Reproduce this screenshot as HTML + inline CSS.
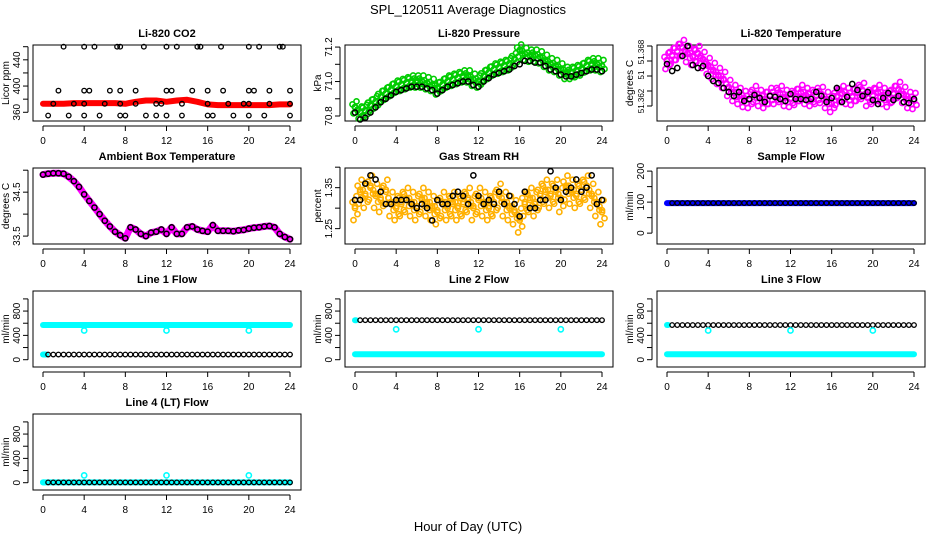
<!DOCTYPE html>
<html><head><meta charset="utf-8"><style>
html,body{margin:0;padding:0;background:#fff}
svg{display:block;font-family:"Liberation Sans",Arial,sans-serif}
</style></head><body>
<svg id="c" width="936" height="540" viewBox="0 0 936 540">
<text x="468" y="14" text-anchor="middle" font-size="13">SPL_120511  Average Diagnostics</text>
<text x="468" y="531" text-anchor="middle" font-size="13">Hour of Day (UTC)</text>
</svg>
<script>
// ---- data ----
var xTicks=[0,4,8,12,16,20,24];
var co2RedHours=[0,1,2,3,4,5,6,7,8,9,10,11,12,13,14,15,16,17,18,19,20,21,22,23,24];
var co2RedVals=[373,373,373,374,374,374,374,374,373,376,378,378,376,378,379,376,372,371,371,371,371,371,371,372,372];
var co2BlackHours=[2,4,5,7.2,7.5,9.8,12,13,15,15.3,17.3,20,21,23,23.3,1.5,4,4.5,6.5,7.5,9,12,12.5,14.5,16,17.5,20,20.5,22,24,1,3,4,6,7.5,9,11,11.5,13.5,16,18,19.5,20,22,24,0.5,2.5,4,5.5,7.5,8,10,11,12,13.5,16,16.5,18.5,20,21.5,24];
var co2BlackVals=[460,460,460,460,460,460,460,460,460,460,460,460,460,460,460,393,393,393,393,393,393,393,393,393,393,393,393,393,393,393,373,373,373,373,373,373,373,373,373,373,373,373,373,373,373,355,355,355,355,355,355,355,355,355,355,355,355,355,355,355,355];
var presHours=[0,0.5,1,1.5,2,2.5,3,3.5,4,4.5,5,5.5,6,6.5,7,7.5,8,8.5,9,9.5,10,10.5,11,11.5,12,12.5,13,13.5,14,14.5,15,15.5,16,16.5,17,17.5,18,18.5,19,19.5,20,20.5,21,21.5,22,22.5,23,23.5,24];
var presGreen=[70.85,70.82,70.83,70.86,70.88,70.91,70.93,70.95,70.97,70.98,70.99,71.0,71.0,71.0,70.99,70.98,70.96,70.98,71.0,71.01,71.02,71.03,71.03,71.01,71.0,71.03,71.05,71.07,71.08,71.09,71.1,71.13,71.18,71.16,71.15,71.15,71.14,71.12,71.1,71.09,71.07,71.05,71.05,71.06,71.07,71.09,71.1,71.1,71.09];
var presBlack=[70.82,70.78,70.79,70.82,70.85,70.88,70.9,70.92,70.94,70.95,70.96,70.97,70.97,70.97,70.96,70.95,70.93,70.95,70.97,70.98,70.99,71.0,71.0,70.98,70.97,71.0,71.02,71.04,71.05,71.06,71.07,71.09,71.1,71.12,71.12,71.11,71.11,71.09,71.07,71.06,71.04,71.03,71.03,71.04,71.05,71.06,71.07,71.07,71.06];
var ltempMag=[51.3655,51.3660,51.3664,51.3668,51.3662,51.3659,51.3662,51.3656,51.3650,51.3645,51.3640,51.3636,51.3628,51.3623,51.3620,51.3617,51.3616,51.3622,51.3618,51.3616,51.3620,51.3620,51.3622,51.3618,51.3617,51.3619,51.3623,51.3620,51.3618,51.3620,51.3621,51.3616,51.3612,51.3619,51.3622,51.3620,51.3619,51.3623,51.3625,51.3618,51.3620,51.3623,51.3620,51.3617,51.3622,51.3626,51.3621,51.3616,51.3615];
var ltempBlack=[51.3652,51.3645,51.3648,51.3660,51.3670,51.3651,51.3648,51.3650,51.3640,51.3635,51.3633,51.3628,51.3624,51.3620,51.3624,51.3615,51.3617,51.3621,51.3618,51.3614,51.3620,51.3619,51.3617,51.3615,51.3622,51.3617,51.3617,51.3616,51.3617,51.3624,51.3620,51.3614,51.3618,51.3628,51.3614,51.3619,51.3632,51.3626,51.3620,51.3624,51.3616,51.3612,51.3618,51.3623,51.3616,51.3620,51.3614,51.3613,51.3617];
var ambHours=[0,0.5,1,1.5,2,2.5,3,3.5,4,4.5,5,5.5,6,6.5,7,7.5,8,8.5,9,9.5,10,10.5,11,11.5,12,12.5,13,13.5,14,14.5,15,15.5,16,16.5,17,17.5,18,18.5,19,19.5,20,20.5,21,21.5,22,22.5,23,23.5,24];
var ambVals=[34.9,34.92,34.93,34.93,34.92,34.85,34.75,34.62,34.45,34.3,34.15,34.0,33.85,33.72,33.6,33.52,33.45,33.7,33.65,33.55,33.5,33.58,33.6,33.65,33.55,33.7,33.55,33.55,33.7,33.72,33.65,33.62,33.6,33.75,33.62,33.62,33.62,33.61,33.63,33.64,33.67,33.69,33.7,33.72,33.73,33.7,33.55,33.48,33.43];
var rhYellow=[1.30,1.34,1.33,1.35,1.33,1.32,1.34,1.31,1.30,1.31,1.32,1.31,1.30,1.32,1.31,1.30,1.29,1.31,1.30,1.31,1.30,1.31,1.32,1.30,1.32,1.31,1.30,1.31,1.33,1.31,1.30,1.29,1.27,1.31,1.32,1.31,1.33,1.34,1.33,1.34,1.32,1.35,1.34,1.33,1.34,1.35,1.33,1.31,1.29];
var rhBlack=[1.32,1.32,1.36,1.38,1.37,1.34,1.31,1.31,1.32,1.32,1.32,1.31,1.30,1.31,1.30,1.27,1.32,1.31,1.31,1.33,1.34,1.33,1.31,1.38,1.33,1.31,1.32,1.31,1.34,1.31,1.33,1.31,1.28,1.34,1.30,1.30,1.32,1.32,1.39,1.35,1.32,1.34,1.35,1.37,1.34,1.35,1.38,1.31,1.32];
var sampleFlow=[97,97,97,97,97,97,97,97,97,97,97,97,97,97,97,97,97,97,97,97,97,97,97,97,97,97,97,97,97,97,97,97,97,97,97,97,97,97,97,97,97,97,97,97,97,97,97,97,97];
var flowHours=[0,0.5,1,1.5,2,2.5,3,3.5,4,4.5,5,5.5,6,6.5,7,7.5,8,8.5,9,9.5,10,10.5,11,11.5,12,12.5,13,13.5,14,14.5,15,15.5,16,16.5,17,17.5,18,18.5,19,19.5,20,20.5,21,21.5,22,22.5,23,23.5,24];
var dipHours=[4,12,20];
var line1Cyan=570, line1Black=85, line1Dip=480;
var line2Cyan=90, line2Black=650, line2Dip=500;
var line3Cyan=90, line3Black=570, line3Dip=480;
var line4Cyan=5, line4Black=5, line4Dip=120;

// ---- drawing ----
var svg=document.getElementById('c'), NS='http://www.w3.org/2000/svg';
function mk(t,a,p){var e=document.createElementNS(NS,t);for(var k in a)e.setAttribute(k,a[k]);(p||svg).appendChild(e);return e;}
function panel(col,row,title,ylab,lo,hi,ticks,labels,name,lfs){
  var x0=33+312*col,x1=x0+268,y0=45+123*row,y1=y0+76;
  var g=mk('g',{});
  
  
  var P={g:g,x0:x0,y0:y0,x:function(h){return x0+10+h*247/24;},y:function(v){return y1-(v-lo)/(hi-lo)*76;}};
  var t=mk('text',{x:(x0+x1)/2,y:y0-8,'text-anchor':'middle','font-size':11,'font-weight':'bold'},g);t.textContent=title;
  
  
  var b=mk('rect',{x:x0,y:y0,width:268,height:76,fill:'none',stroke:'#000'},g);
  
  
  mk('line',{x1:P.x(0),x2:P.x(24),y1:y1+5,y2:y1+5,stroke:'#000'},g);
  xTicks.forEach(function(h){var X=P.x(h);mk('line',{x1:X,x2:X,y1:y1+5,y2:y1+10,stroke:'#000'},g);
    var l=mk('text',{x:X,y:y1+23,'text-anchor':'middle','font-size':10},g);l.textContent=h;
    
    });
  mk('line',{x1:x0-5,x2:x0-5,y1:P.y(ticks[0]),y2:P.y(ticks[ticks.length-1]),stroke:'#000'},g);
  ticks.forEach(function(v){var Y=P.y(v);mk('line',{x1:x0-5,x2:x0-10,y1:Y,y2:Y,stroke:'#000'},g);});
  labels.forEach(function(L){var Y=P.y(L[0]);var l=mk('text',{x:0,y:0,'text-anchor':'middle','font-size':lfs||10,transform:'translate('+(x0-13)+','+Y+') rotate(-90)'},g);l.textContent=L[1];
    
    });
  var yl=mk('text',{x:0,y:0,'text-anchor':'middle','font-size':10,transform:'translate('+(x0-24)+','+(y0+38)+') rotate(-90)'},g);yl.textContent=ylab;
  
  
  return P;}
function pts(P,hs,vs,col,nm,r,sw){var g=mk('g',{fill:'none',stroke:col,'stroke-width':sw||1.5},P.g);
  
  
  for(var i=0;i<hs.length;i++)mk('circle',{cx:P.x(hs[i]),cy:P.y(vs[i]),r:r||2.6},g);}
function band(P,hs,vs,col,w,nm){var d='';for(var i=0;i<hs.length;i++)d+=(i?'L':'M')+P.x(hs[i]).toFixed(1)+' '+P.y(vs[i]).toFixed(1);
  var p=mk('path',{d:d,fill:'none',stroke:col,'stroke-width':w,'stroke-linejoin':'round','stroke-linecap':'round'},P.g);
  
  }
function cloud(P,hs,vs,col,nm,off){var g=mk('g',{fill:'none',stroke:col,'stroke-width':1.6},P.g);
  
  
  for(var i=0;i<hs.length;i++){var X=P.x(hs[i]),Y=P.y(vs[i]);
    [[0,0],[-2.5,-off],[2.5,off],[1.5,-off*2],[-1.5,off*2],[0,-off*0.5+1]].forEach(function(o){mk('circle',{cx:X+o[0],cy:Y+o[1],r:2.6},g);});}}
function flat(v){return flowHours.map(function(){return v;});}

// CO2
var p=panel(0,0,'Li-820 CO2','Licor ppm',346.7,462.6,[360,380,400,420,440,460],[[360,'360'],[400,'400'],[440,'440']],'co2');
band(p,co2RedHours,co2RedVals,'#f00',6,'co2-red-series');
pts(p,co2BlackHours,co2BlackVals,'#000','co2-black-points',2.3,1.3);
// Pressure
p=panel(1,0,'Li-820 Pressure','kPa',70.771,71.212,[70.8,70.9,71.0,71.1,71.2],[[70.8,'70.8'],[71.0,'71.0'],[71.2,'71.2']],'pressure');
cloud(p,presHours,presGreen,'#0c0','pressure-green-points',3);
pts(p,presHours,presBlack,'#000','pressure-black-points');
// Li temp
p=panel(2,0,'Li-820 Temperature','degrees C',51.3595,51.3671,[51.3610,51.3625,51.3640,51.3655,51.3670],[[51.3615,'51.362'],[51.3641,'51'],[51.3664,'51.368']],'li-temp',8);
cloud(p,presHours,ltempMag,'#f0f','li-temp-magenta-points',4);
pts(p,presHours,ltempBlack,'#000','li-temp-black-points');
// Ambient
p=panel(0,1,'Ambient Box Temperature','degrees C',33.32,35.05,[33.5,34.0,34.5,35.0],[[33.5,'33.5'],[34.5,'34.5']],'ambient-temp');
band(p,ambHours,ambVals,'#f0f',7,'ambient-magenta-series');
pts(p,ambHours,ambVals,'#000','ambient-black-points');
// RH
p=panel(1,1,'Gas Stream RH','percent',1.2125,1.398,[1.25,1.30,1.35,1.40],[[1.25,'1.25'],[1.35,'1.35']],'rh');
cloud(p,presHours,rhYellow,'#ffb000','rh-yellow-points',6);
pts(p,presHours,rhBlack,'#000','rh-black-points');
// Sample flow
p=panel(2,1,'Sample Flow','ml/min',-35,210,[0,50,100,150,200],[[0,'0'],[100,'100'],[200,'200']],'sample-flow');
band(p,flowHours,sampleFlow,'#00f',6,'sample-flow-blue-series');
pts(p,flowHours.slice(1),sampleFlow.slice(1),'#000','sample-flow-black-points',2.3,1.3);
// Line flows
var fl=[[0,2,'Line 1 Flow',line1Cyan,line1Black,line1Dip,'line1'],[1,2,'Line 2 Flow',line2Cyan,line2Black,line2Dip,'line2'],[2,2,'Line 3 Flow',line3Cyan,line3Black,line3Dip,'line3'],[0,3,'Line 4 (LT) Flow',line4Cyan,line4Black,line4Dip,'line4']];
fl.forEach(function(f){
  var q=panel(f[0],f[1],f[2],'ml/min',-120,1130,[0,200,400,600,800,1000],[[0,'0'],[400,'400'],[800,'800']],f[6]+'-flow');
  band(q,flowHours,flat(f[3]),'#0ff',6,f[6]+'-cyan-series');
  if(f[6]!=='line1')band(q,flowHours.slice(0,1).concat([0.1]),[f[6]==='line4'?f[3]:f[4],f[6]==='line4'?f[3]:f[4]],'#0ff',6,f[6]+'-cyan-start');
  else band(q,[0,0.3],[line1Black,line1Black],'#0ff',6,'line1-cyan-low-start');
  pts(q,flowHours.slice(1),flat(f[4]).slice(1),'#000',f[6]+'-black-points',2.3,1.3);
  pts(q,dipHours,dipHours.map(function(){return f[5];}),'#0ff',f[6]+'-cyan-dips',2.6,1.6);
});
</script>
</body></html>
